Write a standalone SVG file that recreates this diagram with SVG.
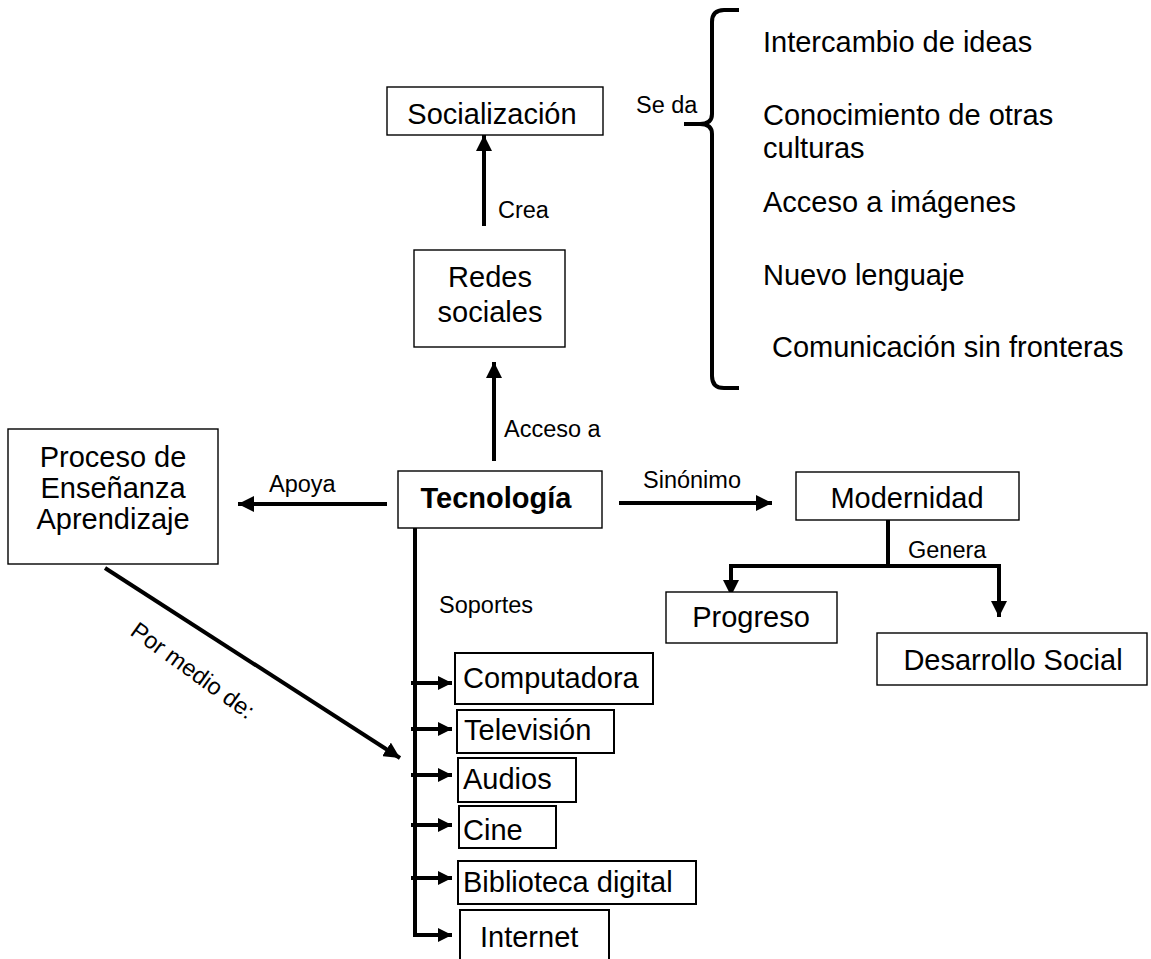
<svg xmlns="http://www.w3.org/2000/svg" width="1151" height="959" viewBox="0 0 1151 959">
<style>
text{font-family:"Liberation Sans",Arial,sans-serif;fill:#000}
.n{font-size:29px}
.b{font-weight:bold}
.l{font-size:23.5px}
.box{fill:#fff;stroke:#000;stroke-width:1.4}
.box2{fill:#fff;stroke:#000;stroke-width:2}
.c{fill:none;stroke:#000;stroke-width:4}
.m{text-anchor:middle}
</style>
<defs>
<marker id="ah" markerUnits="userSpaceOnUse" markerWidth="16" markerHeight="16" viewBox="0 0 16 16" refX="16" refY="8" orient="auto">
<path d="M0,0 L16,8 L0,16 z" fill="#000"/>
</marker>
<marker id="ahs" markerUnits="userSpaceOnUse" markerWidth="14" markerHeight="14" viewBox="0 0 14 14" refX="14" refY="7" orient="auto">
<path d="M0,0 L14,7 L0,14 z" fill="#000"/>
</marker>
</defs>

<g id="connectors">
<line class="c" x1="484" y1="226" x2="484" y2="135" marker-end="url(#ah)"/>
<line class="c" x1="494" y1="461" x2="494" y2="362" marker-end="url(#ah)"/>
<line class="c" x1="387" y1="504" x2="238" y2="504" marker-end="url(#ah)"/>
<line class="c" x1="619" y1="503" x2="772" y2="503" marker-end="url(#ah)"/>
<polyline class="c" points="888,520 888,566"/>
<polyline class="c" points="729,566 1001,566"/>
<line class="c" x1="731" y1="564" x2="731" y2="596" marker-end="url(#ah)"/>
<line class="c" x1="999" y1="564" x2="999" y2="617" marker-end="url(#ah)"/>
<line class="c" x1="105" y1="568" x2="400" y2="758" marker-end="url(#ah)"/>
<polyline class="c" points="415,527 415,935 452,935" marker-end="url(#ahs)"/>
<line class="c" x1="411" y1="683" x2="452" y2="683" marker-end="url(#ahs)"/>
<line class="c" x1="411" y1="729" x2="452" y2="729" marker-end="url(#ahs)"/>
<line class="c" x1="411" y1="775" x2="452" y2="775" marker-end="url(#ahs)"/>
<line class="c" x1="411" y1="825" x2="452" y2="825" marker-end="url(#ahs)"/>
<line class="c" x1="411" y1="878" x2="452" y2="878" marker-end="url(#ahs)"/>
<path class="c" d="M739,10 L724,10 Q712,10 712,22 L712,114 Q712,124 700,124 L684,124 L700,124 Q712,124 712,134 L712,376 Q712,388 724,388 L739,388"/>
<text class="l" x="498" y="218">Crea</text>
<text class="l" x="504" y="437">Acceso a</text>
<text class="l" x="269" y="492">Apoya</text>
<text class="l" x="643" y="488">Sinónimo</text>
<text class="l" x="908" y="558">Genera</text>
<text class="l" x="439" y="613">Soportes</text>
<text class="l" x="636" y="113">Se da</text>
<text class="l" transform="translate(129,634) rotate(36)">Por medio de:</text>
</g>

<g id="socializacion">
<rect class="box" x="387" y="87" width="216" height="48"/>
<text class="n m" x="492" y="124">Socialización</text>
</g>
<g id="redes">
<rect class="box" x="414" y="250" width="151" height="97"/>
<text class="n m" x="490" y="287">Redes</text>
<text class="n m" x="490" y="322">sociales</text>
</g>
<g id="tecnologia">
<rect class="box" x="398" y="471" width="204" height="57"/>
<text class="n b m" x="496" y="508">Tecnología</text>
</g>
<g id="proceso">
<rect class="box" x="8" y="429" width="210" height="135"/>
<text class="n m" x="113" y="467">Proceso de</text>
<text class="n m" x="113" y="498">Enseñanza</text>
<text class="n m" x="113" y="529">Aprendizaje</text>
</g>
<g id="modernidad">
<rect class="box" x="796" y="472" width="223" height="48"/>
<text class="n m" x="907" y="508">Modernidad</text>
</g>
<g id="progreso">
<rect class="box" x="666" y="592" width="171" height="51"/>
<text class="n m" x="751" y="627">Progreso</text>
</g>
<g id="desarrollo">
<rect class="box" x="877" y="633" width="270" height="52"/>
<text class="n m" x="1013" y="670">Desarrollo Social</text>
</g>
<g id="lista">
<text class="n" x="763" y="52">Intercambio de ideas</text>
<text class="n" x="763" y="125">Conocimiento de otras</text>
<text class="n" x="763" y="158">culturas</text>
<text class="n" x="763" y="212">Acceso a imágenes</text>
<text class="n" x="763" y="285">Nuevo lenguaje</text>
<text class="n" x="772" y="357">Comunicación sin fronteras</text>
</g>
<g id="computadora">
<rect class="box2" x="455" y="653" width="198" height="51"/>
<text class="n" x="463" y="688">Computadora</text>
</g>
<g id="television">
<rect class="box2" x="457" y="710" width="157" height="43"/>
<text class="n" x="464" y="740">Televisión</text>
</g>
<g id="audios">
<rect class="box2" x="458" y="758" width="118" height="44"/>
<text class="n" x="463" y="789">Audios</text>
</g>
<g id="cine">
<rect class="box2" x="459" y="806" width="97" height="42"/>
<text class="n" x="463" y="840">Cine</text>
</g>
<g id="biblioteca">
<rect class="box2" x="458" y="861" width="238" height="43"/>
<text class="n" x="463" y="892">Biblioteca digital</text>
</g>
<g id="internet">
<rect class="box2" x="460" y="910" width="149" height="60"/>
<text class="n" x="480" y="947">Internet</text>
</g>
</svg>
